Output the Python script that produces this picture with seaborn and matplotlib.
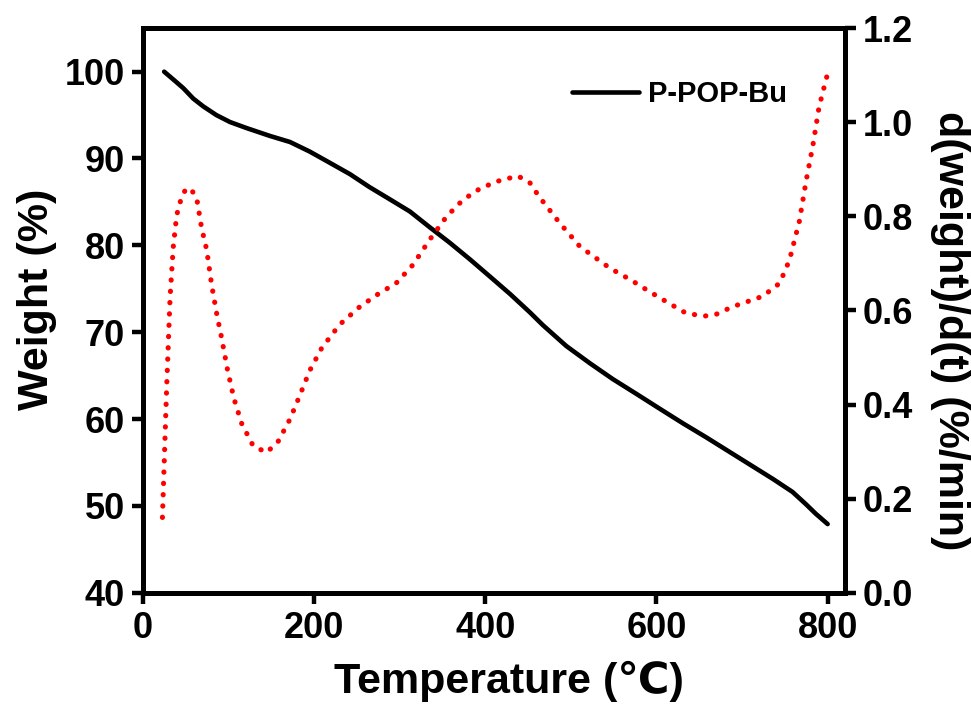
import numpy as np
import pandas as pd
import seaborn as sns
import matplotlib
matplotlib.use('Agg')
import matplotlib.pyplot as plt


# TGA curve
temp_w = [25, 35.7, 47.4, 59, 70.7, 86, 101.9, 121.4, 148.5, 172, 195, 218.6,
          242, 265, 288.6, 312, 335, 358.6, 382, 405.6, 429, 452, 467.5, 494.8,
          522.6, 549, 576.5, 603.6, 631, 658, 697, 736, 759, 774.5, 786, 800]
weight = [100, 99.1, 98.1, 96.9, 96.0, 95.0, 94.2, 93.5, 92.6, 91.9, 90.8, 89.5,
          88.2, 86.7, 85.3, 83.9, 82.1, 80.3, 78.4, 76.4, 74.4, 72.3, 70.8, 68.4,
          66.4, 64.6, 62.9, 61.2, 59.5, 57.9, 55.5, 53.1, 51.6, 50.2, 49.1, 47.9]

# DTG curve
temp_d = [23, 25.5, 28, 30.5, 32, 35.7, 39.7, 45.5, 51, 57, 63, 68.8, 74.7, 80.5,
          87, 92.2, 99, 106.5, 115.5, 129, 144.7, 158, 172, 183.6, 195, 209, 230,
          253.6, 275, 296, 315.6, 335, 355, 374, 393, 413, 438, 452, 463, 487,
          510.6, 545.6, 570, 592, 615, 634.8, 656, 670, 689, 705, 724, 744, 755.4,
          767, 775, 782.5, 790, 799]
dweight = [0.16, 0.30, 0.44, 0.56, 0.63, 0.736, 0.803, 0.842, 0.86, 0.856, 0.839,
           0.775, 0.729, 0.654, 0.587, 0.541, 0.474, 0.413, 0.36, 0.312, 0.298,
           0.321, 0.369, 0.42, 0.472, 0.52, 0.57, 0.608, 0.635, 0.658, 0.697, 0.75,
           0.80, 0.835, 0.858, 0.874, 0.886, 0.872, 0.842, 0.786, 0.736, 0.69,
           0.665, 0.64, 0.615, 0.594, 0.588, 0.592, 0.608, 0.618, 0.63, 0.658,
           0.707, 0.79, 0.877, 0.948, 1.033, 1.097]

x_ticks = [0, 200, 400, 600, 800]
y_ticks = [40, 50, 60, 70, 80, 90, 100]
y2_ticks = [0.0, 0.2, 0.4, 0.6, 0.8, 1.0, 1.2]

df_w = pd.DataFrame({'temp': temp_w, 'weight': weight})
df_d = pd.DataFrame({'temp': temp_d, 'dw': dweight})

sns.set_style('ticks')
plt.rcParams['font.family'] = ['Liberation Sans', 'DejaVu Sans']
plt.rcParams['font.weight'] = 'bold'
plt.rcParams['axes.labelweight'] = 'bold'
plt.rcParams['text.color'] = 'black'
plt.rcParams['axes.labelcolor'] = 'black'

fig = plt.figure(figsize=(9.71, 7.06), dpi=100)
ax = fig.add_axes([0.147, 0.1605, 0.723, 0.7995])

sns.lineplot(data=df_w, x='temp', y='weight', ax=ax, color='black', lw=3.3,
             label='P-POP-Bu', solid_capstyle='round', solid_joinstyle='round')
ax.set_xlim(0, 820)
ax.set_ylim(40, 105)
ax.set_xticks(x_ticks)
ax.set_yticks(y_ticks)

ax2 = ax.twinx()
sns.lineplot(data=df_d, x='temp', y='dw', ax=ax2, color='red', lw=3.7,
             linestyle=(0, (0.05, 2.15)), dash_capstyle='round', legend=False)
ax2.set_ylim(0, 1.2)
ax2.set_yticks(y2_ticks)
ax2.set_yticklabels([f'{v:.1f}' for v in y2_ticks])

# axis titles, placed by their centres
ax.set_xlabel('Temperature (\u2103)', fontsize=31, color='black',
              ha='center', va='center')
ax.set_ylabel('Weight (%)', fontsize=31, color='black',
              ha='center', va='center')
ax2.set_ylabel('d(weight)/d(t) (%/min)', fontsize=31, rotation=270,
               ha='center', va='center', color='black')
ax.xaxis.set_label_coords(0.522, -0.157)
ax.yaxis.set_label_coords(-0.151, 0.519)
ax2.yaxis.set_label_coords(1.150, 0.465)

for a in (ax, ax2):
    for s in a.spines.values():
        s.set_linewidth(3.6)
        s.set_color('black')
    a.tick_params(axis='both', direction='out', length=8, width=3.2,
                  labelsize=26, pad=5, colors='black', labelcolor='black')
ax.tick_params(top=False, right=False)

leg = ax.legend(loc='upper right', bbox_to_anchor=(0.955, 0.955), frameon=False,
                fontsize=21, handlelength=2.3, handletextpad=0.3)
for t in leg.get_texts():
    t.set_fontweight('bold')
    t.set_color('black')

fig.savefig('out.png', dpi=100)
